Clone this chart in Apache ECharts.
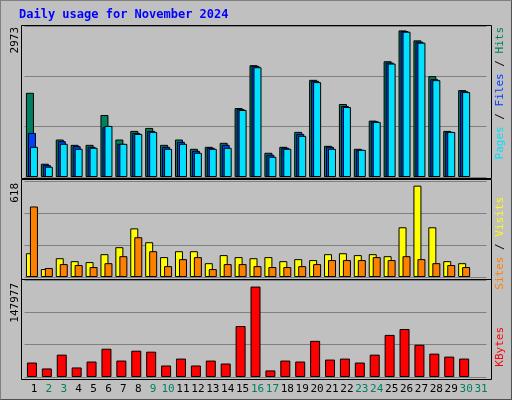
<!DOCTYPE html>
<html><head><meta charset="utf-8">
<script src="https://cdn.jsdelivr.net/npm/echarts@6/dist/echarts.min.js"></script>
<style>
html,body{margin:0;padding:0;background:#c0c0c0;}
#chart{width:510px;height:398px;border:1px solid #808080;border-right-color:#505050;border-bottom-color:#505050;}
</style></head>
<body><div id="chart"></div>
<script>
const days = Array.from({ length: 31 }, (_, i) => String(i + 1));
const weekend = ["2", "3", "9", "10", "16", "17", "23", "24", "30", "31"];

const hits = [1658, 261, 738, 633, 633, 1221, 738, 908, 966, 633, 738, 555, 594, 673, 1358, 2201, 477, 594, 888, 1913, 614, 1437, 555, 1110, 2279, 2886, 2690, 1985, 908, 1711];
const files = [868, 235, 705, 607, 594, 980, 653, 868, 908, 594, 692, 516, 575, 633, 1339, 2188, 438, 575, 849, 1893, 594, 1397, 535, 1097, 2253, 2873, 2664, 1926, 888, 1691];
const pages = [594, 202, 653, 555, 575, 1006, 653, 849, 888, 555, 653, 477, 555, 575, 1319, 2161, 398, 555, 810, 1868, 555, 1378, 535, 1084, 2233, 2860, 2645, 1907, 888, 1672];
const visits = [153, 51, 121, 102, 96, 147, 192, 313, 224, 128, 166, 166, 89, 141, 128, 121, 128, 102, 115, 109, 147, 153, 141, 147, 134, 320, 588, 320, 102, 89];
const sites = [454, 58, 83, 77, 64, 89, 134, 256, 166, 70, 115, 128, 51, 83, 83, 70, 64, 64, 70, 83, 109, 109, 109, 128, 109, 134, 115, 89, 77, 64];
const kbytes = [22071, 13042, 34108, 14546, 23576, 43138, 25081, 40129, 38624, 17556, 28090, 17556, 25081, 20566, 77748, 137940, 10032, 25081, 23576, 55177, 26585, 28090, 22071, 34108, 64206, 73234, 49157, 35613, 31099, 28090];

const maxHits = 2973, maxVisits = 618, maxKbytes = 147977;

const chart = echarts.init(document.getElementById("chart"));
const grids = [
  { left: 23.5, width: 462, top: 25, height: 151 },
  { left: 23.5, width: 462, top: 180, height: 96 },
  { left: 23.5, width: 462, top: 279, height: 97 },
];
const frames = [[20, 24, 470, 153], [20, 178, 470, 100], [20, 278, 470, 100]];
const mono = "DejaVu Sans Mono";

function xAxis(i, showLabels) {
  return {
    type: "category", gridIndex: i, data: days,
    axisLine: { show: false }, axisTick: { show: false },
    axisLabel: {
      show: showLabels, interval: 0, margin: 7, fontFamily: mono, fontSize: 11, padding: [0, 0, 0, 4],
      formatter: (v) => (weekend.includes(v) ? "{w|" + v + "}" : "{n|" + v + "}"),
      rich: { w: { color: "#008060", fontFamily: mono, fontSize: 11 }, n: { color: "#000", fontFamily: mono, fontSize: 11 } },
    },
  };
}
function yAxis(i, max) {
  return {
    type: "value", gridIndex: i, min: 0, max: max, interval: max / 3,
    axisLabel: { show: false }, axisLine: { show: false }, axisTick: { show: false },
    splitLine: { lineStyle: { color: "#808080", width: 1 } },
  };
}
function bars(name, data, i, color, width, gap) {
  return {
    name, type: "bar", data, xAxisIndex: i, yAxisIndex: i, barWidth: width, barGap: gap,
    itemStyle: { color, borderColor: "#000", borderWidth: 1 }, animation: false,
  };
}
function vText(x, y, text, rich) {
  return { type: "text", x, y, rotation: Math.PI / 2, z: 10, style: { text, rich, fill: "#000", font: "11px " + mono, align: "right", verticalAlign: "top" } };
}

chart.setOption({
  backgroundColor: "#c0c0c0",
  grid: grids,
  xAxis: [xAxis(0, false), xAxis(1, false), xAxis(2, true)],
  yAxis: [yAxis(0, maxHits), yAxis(1, maxVisits), yAxis(2, maxKbytes)],
  series: [
    bars("Hits", hits, 0, "#008060", 8, "-75%"),
    bars("Files", files, 0, "#0040ff", 8, "-75%"),
    bars("Pages", pages, 0, "#00e0ff", 8, "-75%"),
    bars("Visits", visits, 1, "#ffff00", 8, "-50%"),
    bars("Sites", sites, 1, "#ff8000", 8, "-50%"),
    bars("KBytes", kbytes, 2, "#ff0000", 10, "0%"),
  ],
  graphic: [
    ...frames.map(([x, y, w, h]) => ({ type: "rect", z: 5, silent: true, shape: { x: x + 0.5, y: y + 0.5, width: w, height: h }, style: { fill: null, stroke: "#000", lineWidth: 1 } })),
    { type: "text", left: 18, top: 8, style: { text: "Daily usage for November 2024", fill: "#0000ff", font: "bold 12px " + mono } },
    vText(9, 26, String(maxHits)),
    vText(9, 182, String(maxVisits)),
    vText(9, 282, String(maxKbytes)),
    vText(494, 26, "{p|Pages} / {f|Files} / {h|Hits}", { p: { fill: "#00e0ff" }, f: { fill: "#0040ff" }, h: { fill: "#008060" } }),
    vText(494, 196, "{s|Sites} / {v|Visits}", { s: { fill: "#ff8000" }, v: { fill: "#ffff00" } }),
    vText(494, 326, "{k|KBytes}", { k: { fill: "#ff0000" } }),
  ],
});
</script></body></html>
